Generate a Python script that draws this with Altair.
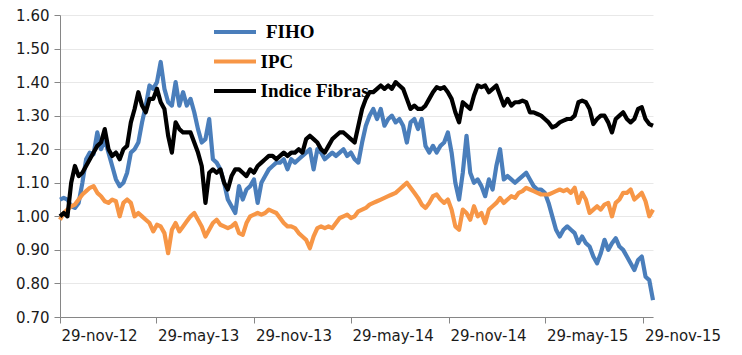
import altair as alt
import pandas as pd

# ---- data (weekly readings from the reference) ----
start_date = "2012-11-29"

fiho = [1.05, 1.055, 1.05, 1.03, 1.025, 1.04, 1.10, 1.17, 1.19, 1.185,
        1.25, 1.20, 1.23, 1.19, 1.15, 1.11, 1.09, 1.10, 1.13, 1.19,
        1.20, 1.22, 1.28, 1.33, 1.39, 1.38, 1.40, 1.46, 1.38, 1.34,
        1.33, 1.40, 1.33, 1.37, 1.33, 1.35, 1.31, 1.26, 1.22, 1.23,
        1.29, 1.17, 1.16, 1.14, 1.10, 1.05, 1.03, 1.01, 1.09, 1.05,
        1.08, 1.09, 1.11, 1.04, 1.10, 1.12, 1.14, 1.15, 1.16, 1.16,
        1.17, 1.14, 1.17, 1.16, 1.17, 1.18, 1.19, 1.20, 1.14, 1.20,
        1.19, 1.17, 1.18, 1.19, 1.18, 1.19, 1.20, 1.18, 1.19, 1.17,
        1.16, 1.22, 1.27, 1.30, 1.32, 1.29, 1.32, 1.27, 1.29, 1.30,
        1.28, 1.29, 1.27, 1.22, 1.28, 1.29, 1.26, 1.29, 1.21, 1.19,
        1.21, 1.19, 1.21, 1.22, 1.25, 1.19, 1.10, 1.05, 1.13, 1.24,
        1.13, 1.10, 1.11, 1.09, 1.06, 1.11, 1.08, 1.15, 1.20, 1.11,
        1.12, 1.11, 1.10, 1.11, 1.12, 1.13, 1.11, 1.09, 1.08, 1.08,
        1.07, 1.04, 1.00, 0.96, 0.94, 0.96, 0.97, 0.96, 0.95, 0.92,
        0.94, 0.92, 0.91, 0.88, 0.86, 0.89, 0.93, 0.90, 0.92, 0.935,
        0.91, 0.90, 0.88, 0.86, 0.84, 0.87, 0.88, 0.82, 0.81, 0.75]

ipc = [0.99, 1.01, 1.02, 1.03, 1.035, 1.05, 1.065, 1.075, 1.085, 1.09,
       1.07, 1.06, 1.045, 1.04, 1.05, 1.045, 1.00, 1.04, 1.05, 1.04,
       1.00, 1.01, 1.00, 0.99, 0.98, 0.955, 0.975, 0.97, 0.95, 0.89,
       0.96, 0.98, 0.955, 0.97, 0.985, 1.00, 1.01, 0.99, 0.97, 0.94,
       0.96, 0.98, 0.99, 0.975, 0.97, 0.965, 0.97, 0.98, 0.95, 0.945,
       0.98, 1.00, 1.005, 1.01, 1.005, 1.01, 1.02, 1.015, 1.01, 0.995,
       0.98, 0.97, 0.97, 0.965, 0.95, 0.94, 0.93, 0.905, 0.94, 0.965,
       0.97, 0.965, 0.97, 0.965, 0.98, 0.995, 1.00, 1.005, 0.995, 1.00,
       1.015, 1.02, 1.025, 1.035, 1.04, 1.045, 1.05, 1.055, 1.06, 1.065,
       1.07, 1.08, 1.09, 1.10, 1.085, 1.07, 1.055, 1.035, 1.025, 1.04,
       1.06, 1.065, 1.05, 1.04, 1.05, 1.02, 0.97, 0.96, 1.02, 1.01,
       0.99, 1.03, 1.00, 1.01, 0.98, 1.02, 1.03, 1.04, 1.055, 1.04,
       1.05, 1.06, 1.055, 1.07, 1.075, 1.085, 1.08, 1.075, 1.07, 1.065,
       1.065, 1.065, 1.07, 1.075, 1.08, 1.075, 1.08, 1.07, 1.085, 1.04,
       1.07, 1.05, 1.01, 1.02, 1.03, 1.02, 1.035, 1.04, 1.00, 1.04,
       1.05, 1.07, 1.07, 1.08, 1.05, 1.06, 1.07, 1.045, 1.00, 1.02]

fibras = [1.00, 1.01, 1.00, 1.10, 1.15, 1.12, 1.13, 1.15, 1.17, 1.19,
          1.21, 1.22, 1.26, 1.20, 1.18, 1.19, 1.17, 1.20, 1.21, 1.28,
          1.32, 1.37, 1.33, 1.31, 1.35, 1.35, 1.38, 1.34, 1.32, 1.24,
          1.19, 1.28, 1.26, 1.25, 1.25, 1.25, 1.22, 1.19, 1.15, 1.04,
          1.13, 1.14, 1.13, 1.14, 1.10, 1.08, 1.12, 1.14, 1.14, 1.13,
          1.12, 1.14, 1.13, 1.15, 1.16, 1.17, 1.18, 1.18, 1.17, 1.18,
          1.19, 1.18, 1.19, 1.19, 1.20, 1.19, 1.23, 1.24, 1.23, 1.22,
          1.20, 1.19, 1.21, 1.23, 1.24, 1.25, 1.25, 1.24, 1.23, 1.22,
          1.27, 1.32, 1.35, 1.37, 1.37, 1.38, 1.39, 1.38, 1.39, 1.38,
          1.40, 1.39, 1.38, 1.35, 1.32, 1.33, 1.32, 1.32, 1.33, 1.35,
          1.37, 1.385, 1.38, 1.385, 1.37, 1.35, 1.31, 1.28, 1.34, 1.33,
          1.32, 1.36, 1.39, 1.385, 1.39, 1.37, 1.38, 1.39, 1.36, 1.33,
          1.35, 1.33, 1.34, 1.34, 1.345, 1.34, 1.31, 1.31, 1.305, 1.30,
          1.29, 1.28, 1.265, 1.27, 1.28, 1.285, 1.29, 1.29, 1.30, 1.34,
          1.345, 1.34, 1.32, 1.275, 1.29, 1.30, 1.30, 1.28, 1.25, 1.29,
          1.30, 1.31, 1.29, 1.28, 1.29, 1.32, 1.325, 1.29, 1.275, 1.27]

series_names = ["FIHO", "IPC", "Indice Fibras"]
series_colors = ["#4a7ebb", "#f79646", "#000000"]
tick_dates = [(2012, 11, 29), (2013, 5, 29), (2013, 11, 29), (2014, 5, 29),
              (2014, 11, 29), (2015, 5, 29), (2015, 11, 29)]
y_ticks = [0.70, 0.80, 0.90, 1.00, 1.10, 1.20, 1.30, 1.40, 1.50, 1.60]

# ---- table ----
dates = pd.date_range(start_date, periods=len(fiho), freq="7D")
df = pd.DataFrame({"fecha": dates.strftime("%Y-%m-%d"),
                   "FIHO": fiho, "IPC": ipc, "Indice Fibras": fibras})
long = df.melt("fecha", var_name="serie", value_name="valor")

W, H = 593, 302

x_enc = alt.X(
    "fecha:T",
    scale=alt.Scale(type="utc", nice=False),
    axis=alt.Axis(
        values=[alt.DateTime(year=y, month=m, date=d, utc=True) for (y, m, d) in tick_dates],
        labelExpr="lower(utcFormat(datum.value, '%d-%b-%y'))",
        grid=False, domainColor="#868686", tickColor="#868686",
        tickSize=6, labelFont="DejaVu Sans", labelFontSize=15,
        labelColor="#1a1a1a", labelPadding=5, title=None,
        labelAlign="left", labelOffset=1,
        labelOverlap=False, labelFlush=False,
    ),
)
y_enc = alt.Y(
    "valor:Q",
    scale=alt.Scale(domain=[0.70, 1.60], nice=False, zero=False),
    axis=alt.Axis(
        values=y_ticks, format=".2f", grid=True, gridColor="#e8e8e8",
        domainColor="#868686", tickColor="#868686", tickSize=6,
        labelFont="DejaVu Sans", labelFontSize=15, labelColor="#1a1a1a",
        labelPadding=5, title=None,
    ),
)

base = alt.Chart(long)
layers = []

# legend (drawn first so the series pass over it, like the reference)
leg_y = [17, 46.5, 76]
leg_tx = [206, 200.5, 200.5]
dummy = pd.DataFrame({"a": [0]})
for name, col, yy, tx in zip(series_names, series_colors, leg_y, leg_tx):
    layers.append(
        alt.Chart(dummy).mark_rule(color=col, strokeWidth=4.2).encode(
            x=alt.value(154), x2=alt.value(196), y=alt.value(yy))
    )
    layers.append(
        alt.Chart(dummy).mark_text(
            text=name, font="Liberation Serif", fontWeight="bold",
            fontSize=19, align="left", baseline="middle", color="#000000"
        ).encode(x=alt.value(tx), y=alt.value(yy))
    )

for name, col in zip(series_names, series_colors):
    layers.append(
        base.transform_filter(alt.datum.serie == name)
        .mark_line(color=col, strokeWidth=4.2, strokeJoin="round")
        .encode(x=x_enc, y=y_enc)
    )

chart = alt.layer(*layers).properties(
    width=W, height=H,
    padding={"left": 52, "top": 7, "right": 80, "bottom": 38},
    autosize=alt.AutoSizeParams(type="none"),
).configure_view(strokeWidth=0)

chart.save("out.html", embed_options={"renderer": "svg", "actions": False})
